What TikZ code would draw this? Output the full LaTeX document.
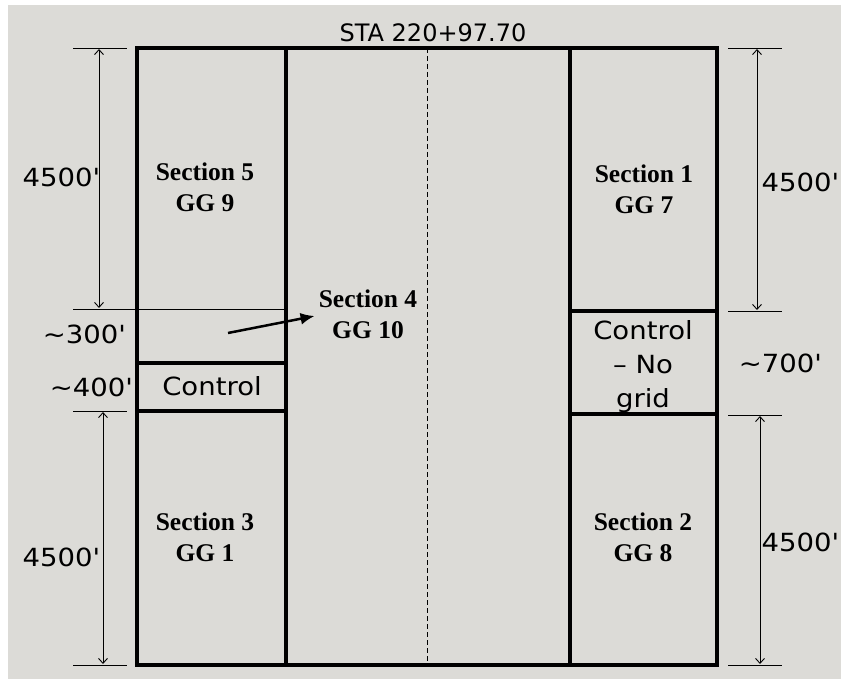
\documentclass[tikz,border=0pt]{standalone}
\usepackage{fontspec}
\setmainfont{DejaVu Sans}
\newfontfamily\widesans{DejaVu Sans}[FakeStretch=1.1]
\newfontfamily\secfont{Liberation Serif}
\usetikzlibrary{arrows.meta}
\definecolor{bg}{RGB}{220,219,215}
\tikzset{
  thickln/.style={line width=3.2pt, line cap=rect},
  thinln/.style={line width=0.9pt},
  dimln/.style={line width=0.9pt, {Straight Barb[length=5pt,width=9pt]}-{Straight Barb[length=5pt,width=9pt]}},
  extln/.style={line width=0.9pt},
  seclbl/.style={font=\secfont\bfseries\fontsize{25.5}{31}\selectfont, align=center, inner sep=0pt},
  sanslbl/.style={font=\widesans\fontsize{25}{34}\selectfont, align=center, inner sep=0pt},
}
\begin{document}
\begin{tikzpicture}[x=1pt,y=-1pt]
\useasboundingbox (0,0) rectangle (841,679);
\fill[white] (0,0) rectangle (841,679);
\fill[bg] (8,5) rectangle (841,679);
% key coordinates
\coordinate (TL) at (137,48);
\coordinate (TR) at (717,48);
\coordinate (BL) at (137,665);
\coordinate (BR) at (717,665);
\coordinate (c1t) at (286,48);
\coordinate (c1b) at (286,665);
\coordinate (c2t) at (570,48);
\coordinate (c2b) at (570,665);
\coordinate (dt) at (427,48);
\coordinate (db) at (427,665);
% outer frame and columns
\draw[thickln] (TL) rectangle (BR);
\draw[line width=4.2pt] (TR) -- (BR);
\draw[thickln] (c1t) -- (c1b);
\draw[thickln] (c2t) -- (c2b);
\draw[line width=0.8pt, dash pattern=on 5pt off 3pt] (dt) -- (db);
% left column dividers
\coordinate (e5a) at (73,309);
\coordinate (e5b) at (286,309);
\draw[thinln] (e5a) -- (e5b);
\coordinate (lc1a) at (137,363);
\coordinate (lc1b) at (286,363);
\draw[thickln] (lc1a) -- (lc1b);
\coordinate (lc2a) at (137,411);
\coordinate (lc2b) at (286,411);
\draw[thickln] (lc2a) -- (lc2b);
% right column dividers
\coordinate (rc1a) at (570,311);
\coordinate (rc1b) at (717,311);
\draw[thickln] (rc1a) -- (rc1b);
\coordinate (rc2a) at (570,414);
\coordinate (rc2b) at (717,414);
\draw[thickln] (rc2a) -- (rc2b);
% left extension lines
\coordinate (le1a) at (73,48);  \coordinate (le1b) at (127,48);
\coordinate (le2a) at (73,411); \coordinate (le2b) at (127,411);
\coordinate (le3a) at (73,665); \coordinate (le3b) at (127,665);
\draw[extln] (le1a) -- (le1b);
\draw[extln] (le2a) -- (le2b);
\draw[extln] (le3a) -- (le3b);
% right extension lines
\coordinate (re1a) at (728,48);  \coordinate (re1b) at (782,48);
\coordinate (re2a) at (728,311); \coordinate (re2b) at (782,311);
\coordinate (re3a) at (728,415); \coordinate (re3b) at (782,415);
\coordinate (re4a) at (728,665); \coordinate (re4b) at (782,665);
\draw[extln] (re1a) -- (re1b);
\draw[extln] (re2a) -- (re2b);
\draw[extln] (re3a) -- (re3b);
\draw[extln] (re4a) -- (re4b);
% dimension arrows
\coordinate (ld1t) at (99,49);  \coordinate (ld1b) at (99,308);
\coordinate (ld2t) at (103,412); \coordinate (ld2b) at (103,664);
\coordinate (rd1t) at (757,49);  \coordinate (rd1b) at (757,310);
\coordinate (rd2t) at (760,416); \coordinate (rd2b) at (760,664);
\draw[dimln] (ld1t) -- (ld1b);
\draw[dimln] (ld2t) -- (ld2b);
\draw[dimln] (rd1t) -- (rd1b);
\draw[dimln] (rd2t) -- (rd2b);
% labels
\node[sanslbl, font=\fontsize{24}{30}\selectfont] (sta) at (433,33) {STA 220+97.70};
\node[sanslbl] (l4500a) at (61,177) {4500\textquotesingle};
\node[sanslbl] (l300) at (84,334) {\textasciitilde 300\textquotesingle};
\node[sanslbl] (l400) at (91,387) {\textasciitilde 400\textquotesingle};
\node[sanslbl] (l4500b) at (61,557) {4500\textquotesingle};
\node[sanslbl] (lctrl) at (212,386) {Control};
\node[sanslbl] (r4500a) at (800,182) {4500\textquotesingle};
\node[sanslbl] (r700) at (780,363) {\textasciitilde 700\textquotesingle};
\node[sanslbl] (r4500b) at (800,542) {4500\textquotesingle};
\node[sanslbl, font=\widesans\fontsize{25}{34}\selectfont] (rctrl) at (643,367) {Control\\– No\\grid};
\node[seclbl] (s5) at (205,187) {Section 5\\GG 9};
\node[seclbl] (s1) at (644,189) {Section 1\\GG 7};
\node[seclbl] (s3) at (205,537) {Section 3\\GG 1};
\node[seclbl] (s2) at (643,537) {Section 2\\GG 8};
\node[seclbl] (s4) at (368,314) {Section 4\\GG 10};
% arrow
\coordinate (a1) at (228,333);
\draw[line width=2.5pt, -{Latex[length=14pt,width=12pt]}] (a1) -- ([xshift=-4pt,yshift=-2pt]s4.west);
\end{tikzpicture}
\end{document}
